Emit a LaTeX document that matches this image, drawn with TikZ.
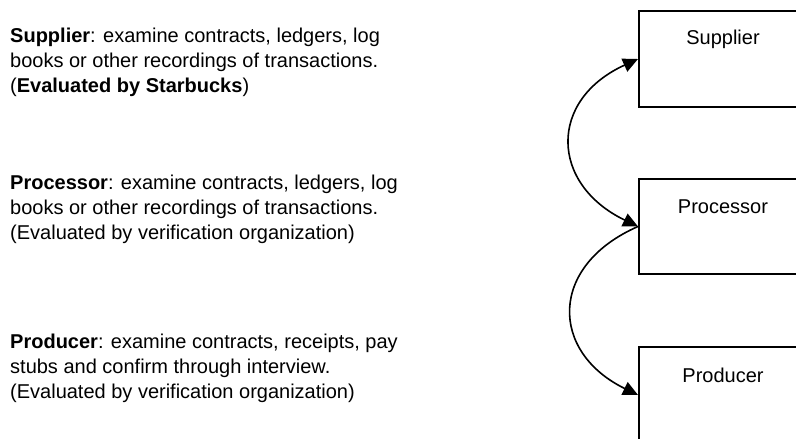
\documentclass[tikz,border=0pt]{standalone}
\usepackage{fontspec}
\setmainfont{Liberation Sans}
\usetikzlibrary{arrows.meta}
\tikzset{
  txt/.style={anchor=base west, inner sep=0pt, font=\fontsize{20}{25}\selectfont},
  boxlabel/.style={anchor=base, inner sep=0pt, font=\fontsize{20}{25}\selectfont},
  entity/.style={draw, line width=2pt, minimum width=170pt, minimum height=96pt, inner sep=0pt, anchor=north west},
  tip/.tip={Triangle[length=15pt,width=14pt]},
  link/.style={line width=1.6pt, -tip},
  dlink/.style={line width=1.6pt, tip-tip}
}
\begin{document}
\begin{tikzpicture}[x=1pt,y=-1pt]
\clip (0,0) rectangle (796,439);
\fill[white] (0,0) rectangle (796,439);

% left text blocks
\node[txt] (s1) at (10,42) {\textbf{Supplier}: examine contracts, ledgers, log};
\node[txt] (s2) at (10,67) {books or other recordings of transactions.};
\node[txt] (s3) at (10,92) {(\textbf{Evaluated by Starbucks})};

\node[txt] (p1) at (10,189) {\textbf{Processor}: examine contracts, ledgers, log};
\node[txt] (p2) at (10,214) {books or other recordings of transactions.};
\node[txt] (p3) at (10,239) {(Evaluated by verification organization)};

\node[txt] (r1) at (10,348) {\textbf{Producer}: examine contracts, receipts, pay};
\node[txt] (r2) at (10,373) {stubs and confirm through interview.};
\node[txt] (r3) at (10,398) {(Evaluated by verification organization)};

% boxes
\node[entity] (sup) at (638,10) {};
\node[entity, minimum height=95pt] (proc) at (638,178) {};
\node[entity] (prod) at (638,346) {};

\node[boxlabel] (supl) at (723,45) {Supplier};
\node[boxlabel] (procl) at (723,213) {Processor};
\node[boxlabel] (prodl) at (723,382) {Producer};

% connectors
\draw[dlink] (proc.west) .. controls (550,184) and (548,100) .. (sup.west);
\draw[link] (proc.west) .. controls (548,266) and (550,352) .. (prod.west);
\end{tikzpicture}
\end{document}
